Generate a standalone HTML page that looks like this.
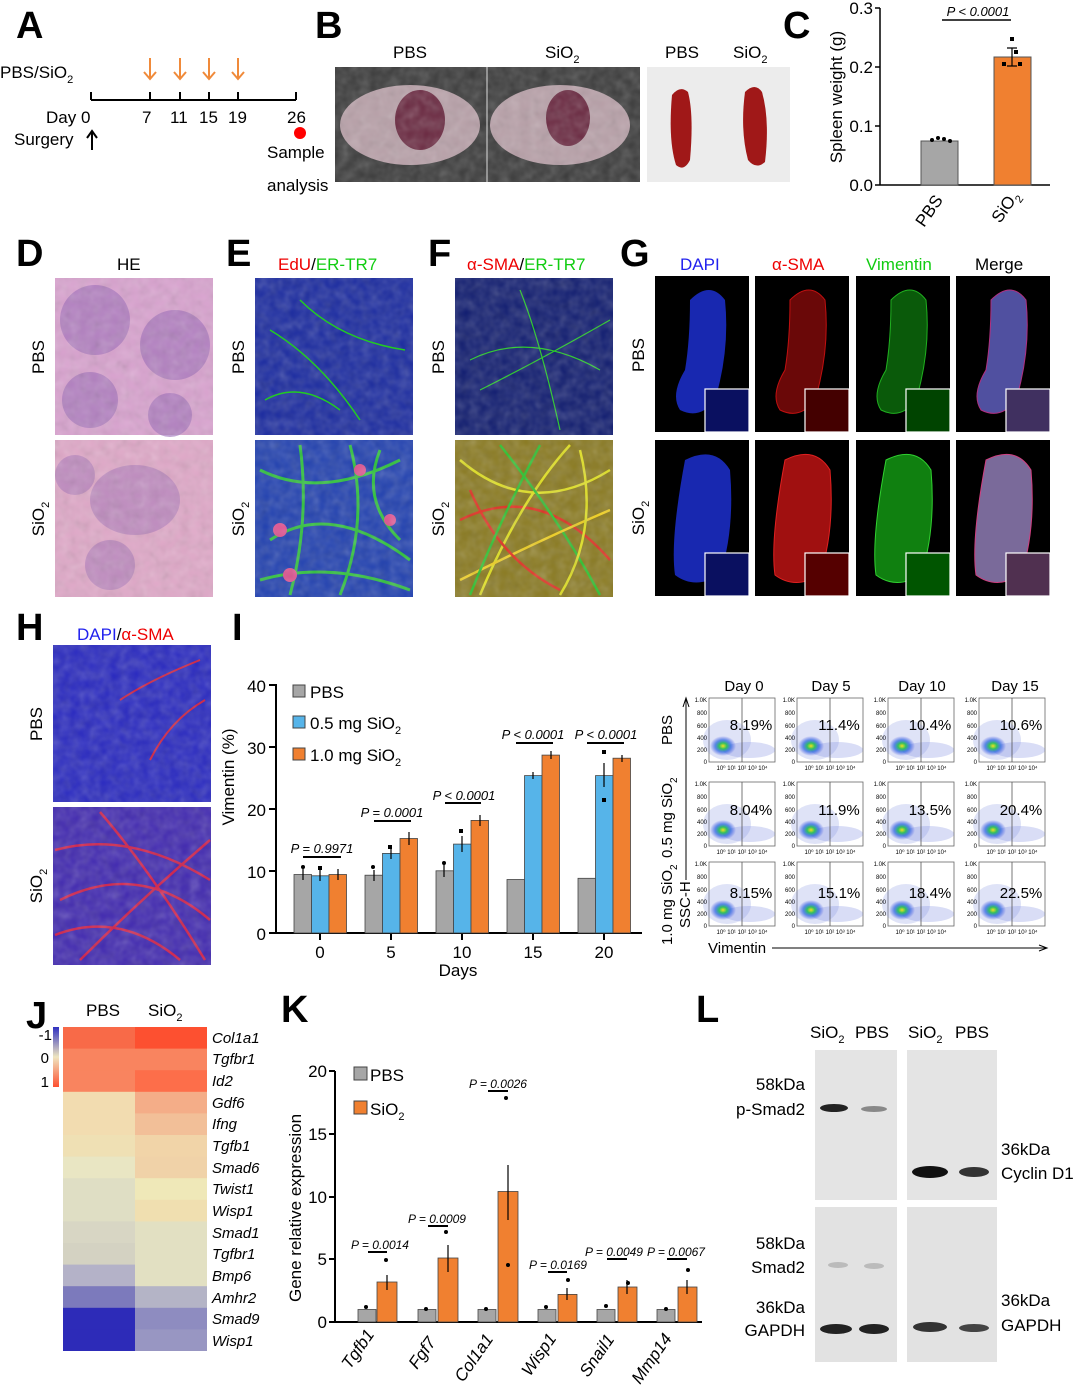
<!DOCTYPE html>
<html><head><meta charset="utf-8"><style>
html,body{margin:0;padding:0;background:#fff;}
svg{display:block;font-family:"Liberation Sans",Arial,sans-serif;}
.L{font-size:38px;font-weight:bold;}
.t{font-size:17px;}
.s{font-size:15px;}
.i{font-style:italic;}
.tk{font-size:6px;}
</style></head><body>
<svg width="1080" height="1388" viewBox="0 0 1080 1388" xmlns="http://www.w3.org/2000/svg">
<defs>
<filter id="noise" x="0" y="0" width="1" height="1" filterUnits="objectBoundingBox"><feTurbulence type="fractalNoise" baseFrequency="0.1" numOctaves="2" seed="3"/><feColorMatrix type="saturate" values="0"/><feComponentTransfer><feFuncA type="linear" slope="0.3"/></feComponentTransfer></filter>
<radialGradient id="blob" cx="0.5" cy="0.5" r="0.5"><stop offset="0" stop-color="#f0e020"/><stop offset="0.3" stop-color="#30c060"/><stop offset="0.6" stop-color="#2060e0" stop-opacity="0.7"/><stop offset="1" stop-color="#3040e0" stop-opacity="0"/></radialGradient>
<linearGradient id="cbar" x1="0" y1="0" x2="0" y2="1"><stop offset="0" stop-color="#3030c0"/><stop offset="0.5" stop-color="#efe6c0"/><stop offset="1" stop-color="#fd5030"/></linearGradient>
<g id="flow">
<rect x="0" y="0" width="66" height="64" fill="#fff" stroke="#666" stroke-width="0.8"/>
<ellipse cx="18" cy="42" rx="24" ry="20" fill="#8090e0" opacity="0.25"/>
<ellipse cx="40" cy="52" rx="26" ry="8" fill="#8090e0" opacity="0.3"/>
<ellipse cx="14" cy="48" rx="13" ry="10" fill="url(#blob)"/>
<line x1="33" y1="0" x2="33" y2="64" stroke="#555" stroke-width="0.8"/>
</g>
</defs>

<!-- A -->
<text x="16" y="38" class="L">A</text>
<text x="0" y="78" class="t">PBS/SiO<tspan font-size="11" dy="5">2</tspan></text>
<line x1="91" y1="100" x2="296" y2="100" stroke="#000" stroke-width="2"/>
<g stroke="#000" stroke-width="2"><line x1="91" y1="92" x2="91" y2="100"/><line x1="150" y1="92" x2="150" y2="100"/><line x1="180" y1="92" x2="180" y2="100"/><line x1="209" y1="92" x2="209" y2="100"/><line x1="238" y1="92" x2="238" y2="100"/><line x1="296" y1="92" x2="296" y2="100"/></g>
<g stroke="#f08a3a" stroke-width="2" fill="none"><path d="M150 58V78M144 72L150 79L156 72"/><path d="M180 58V78M174 72L180 79L186 72"/><path d="M209 58V78M203 72L209 79L215 72"/><path d="M238 58V78M232 72L238 79L244 72"/></g>
<text x="46" y="123" class="t">Day 0</text>
<text x="142" y="123" class="t">7</text><text x="170" y="123" class="t">11</text><text x="199" y="123" class="t">15</text><text x="228" y="123" class="t">19</text><text x="287" y="123" class="t">26</text>
<text x="14" y="145" class="t">Surgery</text>
<path d="M92 150V132M87 138L92 131L97 138" stroke="#000" stroke-width="2" fill="none"/>
<circle cx="300" cy="133" r="6" fill="#f00"/>
<text x="267" y="158" class="t">Sample</text>
<text x="267" y="191" class="t">analysis</text>

<!-- B -->
<text x="315" y="38" class="L">B</text>
<text x="393" y="58" class="t">PBS</text><text x="545" y="58" class="t">SiO<tspan font-size="11" dy="5">2</tspan></text>
<text x="665" y="58" class="t">PBS</text><text x="733" y="58" class="t">SiO<tspan font-size="11" dy="5">2</tspan></text>
<rect x="335" y="67" width="305" height="115" fill="#3a3a3a"/>
<ellipse cx="410" cy="125" rx="70" ry="40" fill="#b8a0a8"/>
<ellipse cx="420" cy="120" rx="25" ry="30" fill="#6a2840"/>
<ellipse cx="560" cy="125" rx="70" ry="40" fill="#b8a0a8"/>
<ellipse cx="568" cy="118" rx="22" ry="28" fill="#6a2840"/>
<rect x="335" y="67" width="305" height="115" filter="url(#noise)"/>
<line x1="487" y1="67" x2="487" y2="182" stroke="#ddd"/>
<rect x="647" y="67" width="143" height="115" fill="#ececec"/>
<path d="M672 95 Q680 85 688 92 Q694 115 690 160 Q684 172 676 165 Q668 140 672 95Z" fill="#a01818"/>
<path d="M745 92 Q755 82 762 92 Q770 120 765 162 Q756 170 748 160 Q740 130 745 92Z" fill="#a01818"/>

<!-- C -->
<text x="783" y="38" class="L">C</text>
<line x1="880" y1="8" x2="880" y2="185" stroke="#000" stroke-width="1.5"/>
<line x1="880" y1="185" x2="1050" y2="185" stroke="#000" stroke-width="1.5"/>
<g stroke="#000" stroke-width="1.5"><line x1="875" y1="185" x2="880" y2="185"/><line x1="875" y1="126" x2="880" y2="126"/><line x1="875" y1="67" x2="880" y2="67"/><line x1="875" y1="8" x2="880" y2="8"/></g>
<g class="t" text-anchor="end"><text x="873" y="191">0.0</text><text x="873" y="132">0.1</text><text x="873" y="73">0.2</text><text x="873" y="14">0.3</text></g>
<text transform="translate(842 97) rotate(-90)" class="t" text-anchor="middle">Spleen weight (g)</text>
<rect x="921" y="141" width="37" height="44" fill="#a6a6a6" stroke="#555"/>
<rect x="994" y="57" width="37" height="128" fill="#f08030" stroke="#555"/>
<line x1="942" y1="20" x2="1011" y2="20" stroke="#000" stroke-width="1.5"/>
<text x="978" y="16" class="i" font-size="13" text-anchor="middle">P &lt; 0.0001</text>
<path d="M1012 48V66M1007 48H1017M1007 66H1017" stroke="#000" stroke-width="1.2"/>
<g fill="#000"><circle cx="932" cy="140" r="2"/><circle cx="938" cy="138" r="2"/><circle cx="944" cy="139" r="2"/><circle cx="950" cy="141" r="2"/><rect x="1002" y="62" width="4" height="4"/><rect x="1010" y="37" width="4" height="4"/><rect x="1018" y="62" width="4" height="4"/><rect x="1014" y="50" width="4" height="4"/></g>
<text transform="translate(924 228) rotate(-55)" class="t">PBS</text>
<text transform="translate(1000 224) rotate(-55)" class="t">SiO<tspan font-size="11" dy="5">2</tspan></text>

<!-- D E F G -->
<text x="16" y="266" class="L">D</text><text x="117" y="270" class="t">HE</text>
<text x="226" y="266" class="L">E</text>
<text x="278" y="270" class="t"><tspan fill="#e00">EdU</tspan>/<tspan fill="#1c1">ER-TR7</tspan></text>
<text x="428" y="266" class="L">F</text>
<text x="467" y="270" class="t"><tspan fill="#e00">α-SMA</tspan>/<tspan fill="#1c1">ER-TR7</tspan></text>
<text x="620" y="266" class="L">G</text>
<text x="680" y="270" class="t" fill="#22e">DAPI</text><text x="772" y="270" class="t" fill="#e00">α-SMA</text><text x="866" y="270" class="t" fill="#1c1">Vimentin</text><text x="975" y="270" class="t">Merge</text>
<g class="t"><text transform="translate(44 357) rotate(-90)" text-anchor="middle">PBS</text><text transform="translate(44 519) rotate(-90)" text-anchor="middle">SiO<tspan font-size="11" dy="5">2</tspan></text>
<text transform="translate(244 357) rotate(-90)" text-anchor="middle">PBS</text><text transform="translate(244 519) rotate(-90)" text-anchor="middle">SiO<tspan font-size="11" dy="5">2</tspan></text>
<text transform="translate(444 357) rotate(-90)" text-anchor="middle">PBS</text><text transform="translate(444 519) rotate(-90)" text-anchor="middle">SiO<tspan font-size="11" dy="5">2</tspan></text>
<text transform="translate(644 355) rotate(-90)" text-anchor="middle">PBS</text><text transform="translate(644 518) rotate(-90)" text-anchor="middle">SiO<tspan font-size="11" dy="5">2</tspan></text></g>
<!-- HE -->
<rect x="55" y="278" width="158" height="157" fill="#d9a2cf"/>
<g fill="#9a6ab8" opacity="0.6"><circle cx="95" cy="320" r="35"/><circle cx="175" cy="345" r="35"/><circle cx="90" cy="400" r="28"/><circle cx="170" cy="415" r="22"/></g>
<rect x="55" y="278" width="158" height="157" filter="url(#noise)"/>
<rect x="55" y="440" width="158" height="157" fill="#e0a8c8"/>
<g fill="#a070b8" opacity="0.5"><ellipse cx="135" cy="500" rx="45" ry="35"/><circle cx="75" cy="475" r="20"/><circle cx="110" cy="565" r="25"/></g>
<rect x="55" y="440" width="158" height="157" filter="url(#noise)"/>
<!-- E -->
<rect x="255" y="278" width="158" height="157" fill="#1a2aa0"/>
<rect x="255" y="278" width="158" height="157" filter="url(#noise)"/>
<g stroke="#2c2" stroke-width="1.5" fill="none"><path d="M270 330 Q320 360 360 420"/><path d="M300 300 Q340 340 405 350"/><path d="M265 400 Q300 380 340 410"/></g>
<rect x="255" y="440" width="158" height="157" fill="#2040b0"/>
<g stroke="#30d030" stroke-width="3" fill="none" opacity="0.9"><path d="M260 470 Q320 500 400 460"/><path d="M270 540 Q330 500 410 560"/><path d="M300 445 Q310 520 290 595"/><path d="M350 445 Q370 520 340 595"/><path d="M260 580 Q330 560 410 590"/><path d="M380 450 Q360 500 400 540"/></g>
<g fill="#e05090"><circle cx="280" cy="530" r="7"/><circle cx="360" cy="470" r="6"/><circle cx="290" cy="575" r="7"/><circle cx="390" cy="520" r="6"/></g>
<rect x="255" y="440" width="158" height="157" filter="url(#noise)"/>
<!-- F -->
<rect x="455" y="278" width="158" height="157" fill="#101c70"/>
<g stroke="#2c2" stroke-width="1.2" fill="none"><path d="M470 360 Q530 330 600 370"/><path d="M480 390 Q540 360 610 320"/><path d="M520 290 Q540 340 560 430"/></g>
<rect x="455" y="278" width="158" height="157" filter="url(#noise)"/>
<rect x="455" y="440" width="158" height="157" fill="#8a7a20"/>
<g stroke-width="2.5" fill="none"><path d="M460 460 Q530 520 610 470" stroke="#e0e020"/><path d="M460 520 Q540 480 610 560" stroke="#e03020"/><path d="M480 595 Q520 500 570 445" stroke="#e0e020"/><path d="M500 445 Q560 520 600 595" stroke="#30c030"/><path d="M460 580 Q540 540 610 510" stroke="#f0d020"/><path d="M470 490 Q500 560 560 590" stroke="#e03020"/><path d="M540 445 Q500 520 470 595" stroke="#30c030"/><path d="M580 450 Q600 530 560 595" stroke="#e0e020"/></g>
<rect x="455" y="440" width="158" height="157" filter="url(#noise)"/>
<!-- G -->
<g>
<rect x="655" y="276" width="94" height="156" fill="#000"/><rect x="755" y="276" width="94" height="156" fill="#000"/><rect x="856" y="276" width="94" height="156" fill="#000"/><rect x="956" y="276" width="94" height="156" fill="#000"/>
<rect x="655" y="440" width="94" height="156" fill="#000"/><rect x="755" y="440" width="94" height="156" fill="#000"/><rect x="856" y="440" width="94" height="156" fill="#000"/><rect x="956" y="440" width="94" height="156" fill="#000"/>
<path d="M690 300 Q710 280 725 300 Q730 350 715 400 Q700 420 680 410 Q670 395 685 370 Q690 340 690 300Z" fill="#1828b0"/>
<path d="M790 300 Q810 280 825 300 Q830 350 815 400 Q800 420 780 410 Q770 395 785 370 Q790 340 790 300Z" fill="#6a0808" stroke="#c01010"/>
<path d="M891 300 Q911 280 926 300 Q931 350 916 400 Q901 420 881 410 Q871 395 886 370 Q891 340 891 300Z" fill="#0a5a0a" stroke="#20b020"/>
<path d="M991 300 Q1011 280 1026 300 Q1031 350 1016 400 Q1001 420 981 410 Q971 395 986 370 Q991 340 991 300Z" fill="#5050a0" stroke="#b03080"/>
<path d="M685 460 Q715 445 730 470 Q735 530 720 575 Q695 590 675 575 Q670 540 685 460Z" fill="#1828b0"/>
<path d="M785 460 Q815 445 830 470 Q835 530 820 575 Q795 590 775 575 Q770 540 785 460Z" fill="#a01010" stroke="#e02020"/>
<path d="M886 460 Q916 445 931 470 Q936 530 921 575 Q896 590 876 575 Q871 540 886 460Z" fill="#108010" stroke="#30d030"/>
<path d="M986 460 Q1016 445 1031 470 Q1036 530 1021 575 Q996 590 976 575 Q971 540 986 460Z" fill="#7a6a9a" stroke="#d04080"/>
<g stroke="#fff" stroke-width="1.2"><rect x="705" y="389" width="44" height="43" fill="#0a1060"/><rect x="805" y="389" width="44" height="43" fill="#400"/><rect x="906" y="389" width="44" height="43" fill="#040"/><rect x="1006" y="389" width="44" height="43" fill="#403060"/>
<rect x="705" y="553" width="44" height="43" fill="#0a1060"/><rect x="805" y="553" width="44" height="43" fill="#500"/><rect x="906" y="553" width="44" height="43" fill="#050"/><rect x="1006" y="553" width="44" height="43" fill="#503050"/></g>
</g>

<!-- H -->
<text x="16" y="640" class="L">H</text>
<text x="77" y="640" class="t"><tspan fill="#22e">DAPI</tspan>/<tspan fill="#e00">α-SMA</tspan></text>
<text transform="translate(42 724) rotate(-90)" class="t" text-anchor="middle">PBS</text>
<text transform="translate(42 886) rotate(-90)" class="t" text-anchor="middle">SiO<tspan font-size="11" dy="5">2</tspan></text>
<rect x="53" y="645" width="158" height="157" fill="#2828c0"/>
<g stroke="#d02040" stroke-width="2" fill="none"><path d="M120 700 Q150 680 200 660"/><path d="M150 760 Q170 720 205 700"/></g>
<rect x="53" y="645" width="158" height="157" filter="url(#noise)"/>
<rect x="53" y="807" width="158" height="158" fill="#4028b0"/>
<g stroke="#e02040" stroke-width="2.5" fill="none" opacity="0.9"><path d="M55 850 Q130 830 210 880"/><path d="M60 900 Q140 860 210 920"/><path d="M80 960 Q140 900 210 840"/><path d="M100 812 Q150 870 205 960"/><path d="M55 935 Q120 910 180 960"/></g>
<rect x="53" y="807" width="158" height="158" filter="url(#noise)"/>

<!-- I -->
<text x="232" y="640" class="L">I</text>
<line x1="276" y1="684" x2="276" y2="933" stroke="#000" stroke-width="2"/>
<line x1="276" y1="933" x2="642" y2="933" stroke="#000" stroke-width="2"/>
<g stroke="#000" stroke-width="2"><line x1="269" y1="933" x2="276" y2="933"/><line x1="269" y1="871" x2="276" y2="871"/><line x1="269" y1="809" x2="276" y2="809"/><line x1="269" y1="747" x2="276" y2="747"/><line x1="269" y1="685" x2="276" y2="685"/>
<line x1="320" y1="933" x2="320" y2="940"/><line x1="391" y1="933" x2="391" y2="940"/><line x1="462" y1="933" x2="462" y2="940"/><line x1="533" y1="933" x2="533" y2="940"/><line x1="604" y1="933" x2="604" y2="940"/></g>
<g class="t" text-anchor="end"><text x="266" y="940">0</text><text x="266" y="878">10</text><text x="266" y="816">20</text><text x="266" y="754">30</text><text x="266" y="692">40</text></g>
<g class="t" text-anchor="middle"><text x="320" y="958">0</text><text x="391" y="958">5</text><text x="462" y="958">10</text><text x="533" y="958">15</text><text x="604" y="958">20</text><text x="458" y="976">Days</text></g>
<text transform="translate(234 777) rotate(-90)" class="t" text-anchor="middle">Vimentin (%)</text>
<g stroke="#444" stroke-width="0.8">
<rect x="294" y="874.5" width="17.5" height="58.5" fill="#a6a6a6"/><rect x="311.5" y="875.8" width="17.5" height="57.2" fill="#56b4e9"/><rect x="329" y="874.5" width="17.5" height="58.5" fill="#f08030"/>
<rect x="365" y="875.2" width="17.5" height="57.8" fill="#a6a6a6"/><rect x="382.5" y="853.4" width="17.5" height="79.6" fill="#56b4e9"/><rect x="400" y="838.5" width="17.5" height="94.5" fill="#f08030"/>
<rect x="436" y="870.8" width="17.5" height="62.2" fill="#a6a6a6"/><rect x="453.5" y="844.1" width="17.5" height="88.9" fill="#56b4e9"/><rect x="471" y="820.4" width="17.5" height="112.6" fill="#f08030"/>
<rect x="507" y="879.5" width="17.5" height="53.5" fill="#a6a6a6"/><rect x="524.5" y="775.6" width="17.5" height="157.4" fill="#56b4e9"/><rect x="542" y="755.1" width="17.5" height="177.9" fill="#f08030"/>
<rect x="578" y="878.3" width="17.5" height="54.7" fill="#a6a6a6"/><rect x="595.5" y="775.6" width="17.5" height="157.4" fill="#56b4e9"/><rect x="613" y="758.2" width="17.5" height="174.8" fill="#f08030"/>
</g>
<g stroke="#000" stroke-width="1.2" fill="none"><path d="M303 869V880M320 869V881M338 869V880M374 870V881M391 848V859M409 832V845M444 864V877M462 836V852M480 815V826M533 772V779M551 751V759M604 763V787M622 755V762"/></g>
<g fill="#000"><circle cx="303" cy="867" r="2"/><rect x="318" y="866" width="4" height="4"/><rect x="388" y="845" width="4" height="4"/><rect x="459" y="829" width="4" height="4"/><rect x="602" y="750" width="4" height="4"/><rect x="602" y="798" width="4" height="4"/><circle cx="444" cy="863" r="2"/><circle cx="373" cy="867" r="2"/></g>
<g stroke="#000" stroke-width="2"><line x1="303" y1="857" x2="341" y2="857"/><line x1="374" y1="821" x2="411" y2="821"/><line x1="445" y1="803" x2="481" y2="803"/><line x1="516" y1="743" x2="553" y2="743"/><line x1="587" y1="743" x2="624" y2="743"/></g>
<g class="i" font-size="13" text-anchor="middle"><text x="322" y="853">P = 0.9971</text><text x="392" y="817">P = 0.0001</text><text x="464" y="800">P &lt; 0.0001</text><text x="533" y="739">P &lt; 0.0001</text><text x="606" y="739">P &lt; 0.0001</text></g>
<g stroke="#444"><rect x="293" y="685" width="12" height="12" fill="#a6a6a6"/><rect x="293" y="716" width="12" height="12" fill="#56b4e9"/><rect x="293" y="748" width="12" height="12" fill="#f08030"/></g>
<g class="t"><text x="310" y="698">PBS</text><text x="310" y="729">0.5 mg SiO<tspan font-size="11" dy="5">2</tspan></text><text x="310" y="761">1.0 mg SiO<tspan font-size="11" dy="5">2</tspan></text></g>

<!-- flow -->
<g class="s" text-anchor="middle"><text x="744" y="691">Day 0</text><text x="831" y="691">Day 5</text><text x="922" y="691">Day 10</text><text x="1015" y="691">Day 15</text></g>
<g>
<use href="#flow" x="709" y="698"/><use href="#flow" x="797" y="698"/><use href="#flow" x="888" y="698"/><use href="#flow" x="979" y="698"/>
<use href="#flow" x="709" y="782"/><use href="#flow" x="797" y="782"/><use href="#flow" x="888" y="782"/><use href="#flow" x="979" y="782"/>
<use href="#flow" x="709" y="862"/><use href="#flow" x="797" y="862"/><use href="#flow" x="888" y="862"/><use href="#flow" x="979" y="862"/>
</g>
<g class="s" text-anchor="middle"><text x="751" y="730">8.19%</text><text x="839" y="730">11.4%</text><text x="930" y="730">10.4%</text><text x="1021" y="730">10.6%</text>
<text x="751" y="815">8.04%</text><text x="839" y="815">11.9%</text><text x="930" y="815">13.5%</text><text x="1021" y="815">20.4%</text>
<text x="751" y="898">8.15%</text><text x="839" y="898">15.1%</text><text x="930" y="898">18.4%</text><text x="1021" y="898">22.5%</text></g>
<g class="tk" text-anchor="end">
<text x="707" y="702">1.0K</text><text x="707" y="715">800</text><text x="707" y="728">600</text><text x="707" y="740">400</text><text x="707" y="752">200</text><text x="707" y="764">0</text>
<text x="795" y="702">1.0K</text><text x="795" y="715">800</text><text x="795" y="728">600</text><text x="795" y="740">400</text><text x="795" y="752">200</text><text x="795" y="764">0</text>
<text x="886" y="702">1.0K</text><text x="886" y="715">800</text><text x="886" y="728">600</text><text x="886" y="740">400</text><text x="886" y="752">200</text><text x="886" y="764">0</text>
<text x="977" y="702">1.0K</text><text x="977" y="715">800</text><text x="977" y="728">600</text><text x="977" y="740">400</text><text x="977" y="752">200</text><text x="977" y="764">0</text>
<text x="707" y="786">1.0K</text><text x="707" y="799">800</text><text x="707" y="812">600</text><text x="707" y="824">400</text><text x="707" y="836">200</text><text x="707" y="848">0</text>
<text x="795" y="786">1.0K</text><text x="795" y="799">800</text><text x="795" y="812">600</text><text x="795" y="824">400</text><text x="795" y="836">200</text><text x="795" y="848">0</text>
<text x="886" y="786">1.0K</text><text x="886" y="799">800</text><text x="886" y="812">600</text><text x="886" y="824">400</text><text x="886" y="836">200</text><text x="886" y="848">0</text>
<text x="977" y="786">1.0K</text><text x="977" y="799">800</text><text x="977" y="812">600</text><text x="977" y="824">400</text><text x="977" y="836">200</text><text x="977" y="848">0</text>
<text x="707" y="866">1.0K</text><text x="707" y="879">800</text><text x="707" y="892">600</text><text x="707" y="904">400</text><text x="707" y="916">200</text><text x="707" y="928">0</text>
<text x="795" y="866">1.0K</text><text x="795" y="879">800</text><text x="795" y="892">600</text><text x="795" y="904">400</text><text x="795" y="916">200</text><text x="795" y="928">0</text>
<text x="886" y="866">1.0K</text><text x="886" y="879">800</text><text x="886" y="892">600</text><text x="886" y="904">400</text><text x="886" y="916">200</text><text x="886" y="928">0</text>
<text x="977" y="866">1.0K</text><text x="977" y="879">800</text><text x="977" y="892">600</text><text x="977" y="904">400</text><text x="977" y="916">200</text><text x="977" y="928">0</text>
</g>
<g class="tk" text-anchor="middle">
<text x="742" y="770">10⁰ 10¹ 10² 10³ 10⁴</text><text x="830" y="770">10⁰ 10¹ 10² 10³ 10⁴</text><text x="921" y="770">10⁰ 10¹ 10² 10³ 10⁴</text><text x="1012" y="770">10⁰ 10¹ 10² 10³ 10⁴</text>
<text x="742" y="854">10⁰ 10¹ 10² 10³ 10⁴</text><text x="830" y="854">10⁰ 10¹ 10² 10³ 10⁴</text><text x="921" y="854">10⁰ 10¹ 10² 10³ 10⁴</text><text x="1012" y="854">10⁰ 10¹ 10² 10³ 10⁴</text>
<text x="742" y="934">10⁰ 10¹ 10² 10³ 10⁴</text><text x="830" y="934">10⁰ 10¹ 10² 10³ 10⁴</text><text x="921" y="934">10⁰ 10¹ 10² 10³ 10⁴</text><text x="1012" y="934">10⁰ 10¹ 10² 10³ 10⁴</text>
</g>
<g class="s"><text transform="translate(672 745) rotate(-90)">PBS</text>
<text transform="translate(672 858) rotate(-90)">0.5 mg SiO<tspan font-size="10" dy="5">2</tspan></text>
<text transform="translate(672 945) rotate(-90)">1.0 mg SiO<tspan font-size="10" dy="5">2</tspan></text>
<text transform="translate(690 928) rotate(-90)">SSC-H</text>
<text x="708" y="953">Vimentin</text></g>
<path d="M686 880V700M683 707L686 698L689 707" stroke="#000" stroke-width="1" fill="none"/>
<path d="M772 948H1046M1039 945L1047 948L1039 951" stroke="#000" stroke-width="1" fill="none"/>

<!-- J -->
<text x="26" y="1028" class="L">J</text>
<text x="86" y="1016" class="t">PBS</text><text x="148" y="1016" class="t">SiO<tspan font-size="11" dy="5">2</tspan></text>
<rect x="53" y="1027" width="6" height="60" fill="url(#cbar)"/>
<g class="s" text-anchor="end"><text x="52" y="1040">-1</text><text x="49" y="1063">0</text><text x="49" y="1087">1</text></g>
<g>
<rect x="63" y="1027" width="72" height="22" fill="#f86a48"/><rect x="135" y="1027" width="72" height="22" fill="#fd5030"/>
<rect x="63" y="1048.6" width="72" height="22" fill="#f9845f"/><rect x="135" y="1048.6" width="72" height="22" fill="#f9845f"/>
<rect x="63" y="1070.2" width="72" height="22" fill="#f9845f"/><rect x="135" y="1070.2" width="72" height="22" fill="#fd6e4a"/>
<rect x="63" y="1091.8" width="72" height="22" fill="#f2dcb0"/><rect x="135" y="1091.8" width="72" height="22" fill="#f4ad88"/>
<rect x="63" y="1113.4" width="72" height="22" fill="#f2dcb0"/><rect x="135" y="1113.4" width="72" height="22" fill="#f2bf98"/>
<rect x="63" y="1135" width="72" height="22" fill="#efe0b4"/><rect x="135" y="1135" width="72" height="22" fill="#f1d4a8"/>
<rect x="63" y="1156.6" width="72" height="22" fill="#e9e6c3"/><rect x="135" y="1156.6" width="72" height="22" fill="#f0d2a8"/>
<rect x="63" y="1178.2" width="72" height="22" fill="#dfdec4"/><rect x="135" y="1178.2" width="72" height="22" fill="#efe8b8"/>
<rect x="63" y="1199.8" width="72" height="22" fill="#dfdec4"/><rect x="135" y="1199.8" width="72" height="22" fill="#f0dfb0"/>
<rect x="63" y="1221.4" width="72" height="22" fill="#d8d6c4"/><rect x="135" y="1221.4" width="72" height="22" fill="#e2e0c2"/>
<rect x="63" y="1243" width="72" height="22" fill="#d4d2c2"/><rect x="135" y="1243" width="72" height="22" fill="#e2e0c2"/>
<rect x="63" y="1264.6" width="72" height="22" fill="#b4b2c8"/><rect x="135" y="1264.6" width="72" height="22" fill="#e2e0c2"/>
<rect x="63" y="1286.2" width="72" height="22" fill="#7c7abc"/><rect x="135" y="1286.2" width="72" height="22" fill="#b4b4c6"/>
<rect x="63" y="1307.8" width="72" height="22" fill="#2d2bb8"/><rect x="135" y="1307.8" width="72" height="22" fill="#8e8cc0"/>
<rect x="63" y="1329.4" width="72" height="21.6" fill="#2d2bb8"/><rect x="135" y="1329.4" width="72" height="21.6" fill="#9896c2"/>
</g>
<g class="s i"><text x="212" y="1043">Col1a1</text><text x="212" y="1064">Tgfbr1</text><text x="212" y="1086">Id2</text><text x="212" y="1108">Gdf6</text><text x="212" y="1129">Ifng</text><text x="212" y="1151">Tgfb1</text><text x="212" y="1173">Smad6</text><text x="212" y="1194">Twist1</text><text x="212" y="1216">Wisp1</text><text x="212" y="1238">Smad1</text><text x="212" y="1259">Tgfbr1</text><text x="212" y="1281">Bmp6</text><text x="212" y="1303">Amhr2</text><text x="212" y="1324">Smad9</text><text x="212" y="1346">Wisp1</text></g>

<!-- K -->
<text x="281" y="1022" class="L">K</text>
<line x1="335" y1="1071" x2="335" y2="1322" stroke="#000" stroke-width="2"/>
<line x1="335" y1="1322" x2="702" y2="1322" stroke="#000" stroke-width="2"/>
<g stroke="#000" stroke-width="2"><line x1="329" y1="1322" x2="335" y2="1322"/><line x1="329" y1="1259" x2="335" y2="1259"/><line x1="329" y1="1197" x2="335" y2="1197"/><line x1="329" y1="1134" x2="335" y2="1134"/><line x1="329" y1="1071" x2="335" y2="1071"/></g>
<g class="t" text-anchor="end"><text x="327" y="1328">0</text><text x="327" y="1265">5</text><text x="327" y="1203">10</text><text x="327" y="1140">15</text><text x="327" y="1077">20</text></g>
<text transform="translate(301 1208) rotate(-90)" class="t" text-anchor="middle">Gene relative expression</text>
<g stroke="#444" stroke-width="0.8">
<rect x="358" y="1309.5" width="18" height="12.5" fill="#a6a6a6"/><rect x="377" y="1282" width="20" height="40" fill="#f08030"/>
<rect x="418" y="1309.5" width="18" height="12.5" fill="#a6a6a6"/><rect x="438" y="1258" width="20" height="64" fill="#f08030"/>
<rect x="478" y="1309.5" width="18" height="12.5" fill="#a6a6a6"/><rect x="498" y="1191.5" width="20" height="130.5" fill="#f08030"/>
<rect x="538" y="1309.5" width="18" height="12.5" fill="#a6a6a6"/><rect x="558" y="1294.4" width="19" height="27.6" fill="#f08030"/>
<rect x="597" y="1309.5" width="18" height="12.5" fill="#a6a6a6"/><rect x="618" y="1287" width="19" height="35" fill="#f08030"/>
<rect x="657" y="1309.5" width="18" height="12.5" fill="#a6a6a6"/><rect x="678" y="1287" width="19" height="35" fill="#f08030"/>
</g>
<g stroke="#000" stroke-width="1.2"><path d="M508 1165V1220M448 1245V1272M387 1275V1290M567 1288V1300M627 1280V1294M687 1280V1294"/></g>
<g fill="#000"><circle cx="506" cy="1098" r="2"/><circle cx="446" cy="1232" r="2"/><circle cx="386" cy="1260" r="2"/><circle cx="508" cy="1265" r="2"/><circle cx="568" cy="1280" r="2"/><circle cx="688" cy="1270" r="2"/><circle cx="628" cy="1283" r="2"/><circle cx="366" cy="1307" r="2"/><circle cx="426" cy="1309" r="2"/><circle cx="486" cy="1309" r="2"/><circle cx="546" cy="1307" r="2"/><circle cx="606" cy="1306" r="2"/><circle cx="666" cy="1309" r="2"/></g>
<g stroke="#000" stroke-width="2"><line x1="368" y1="1252" x2="387" y2="1252"/><line x1="428" y1="1226" x2="448" y2="1226"/><line x1="488" y1="1091" x2="508" y2="1091"/><line x1="548" y1="1272" x2="567" y2="1272"/><line x1="607" y1="1259" x2="627" y2="1259"/><line x1="667" y1="1259" x2="687" y2="1259"/></g>
<g class="i" font-size="12" text-anchor="middle"><text x="380" y="1249">P = 0.0014</text><text x="437" y="1223">P = 0.0009</text><text x="498" y="1088">P = 0.0026</text><text x="558" y="1269">P = 0.0169</text><text x="614" y="1256">P = 0.0049</text><text x="676" y="1256">P = 0.0067</text></g>
<g stroke="#444"><rect x="354" y="1067" width="13" height="13" fill="#a6a6a6"/><rect x="354" y="1101" width="13" height="13" fill="#f08030"/></g>
<g class="t"><text x="370" y="1081">PBS</text><text x="370" y="1115">SiO<tspan font-size="11" dy="5">2</tspan></text></g>
<g class="t i"><text transform="translate(350 1370) rotate(-55)">Tgfb1</text><text transform="translate(417 1370) rotate(-55)">Fgf7</text><text transform="translate(463 1383) rotate(-55)">Col1a1</text><text transform="translate(530 1377) rotate(-55)">Wisp1</text><text transform="translate(588 1378) rotate(-55)">Snail1</text><text transform="translate(640 1385) rotate(-55)">Mmp14</text></g>

<!-- L -->
<text x="696" y="1022" class="L">L</text>
<text x="810" y="1038" class="t">SiO<tspan font-size="11" dy="5">2</tspan></text><text x="855" y="1038" class="t">PBS</text>
<text x="908" y="1038" class="t">SiO<tspan font-size="11" dy="5">2</tspan></text><text x="955" y="1038" class="t">PBS</text>
<rect x="815" y="1050" width="82" height="150" fill="#e4e4e4"/>
<rect x="907" y="1050" width="90" height="150" fill="#e4e4e4"/>
<rect x="815" y="1207" width="82" height="155" fill="#e2e2e2"/>
<rect x="907" y="1207" width="90" height="155" fill="#e2e2e2"/>
<ellipse cx="834" cy="1108" rx="14" ry="4" fill="#222"/><ellipse cx="874" cy="1109" rx="13" ry="3" fill="#888"/>
<ellipse cx="930" cy="1172" rx="18" ry="6" fill="#111"/><ellipse cx="974" cy="1172" rx="15" ry="5" fill="#333"/>
<ellipse cx="838" cy="1265" rx="10" ry="3" fill="#bbb"/><ellipse cx="874" cy="1266" rx="10" ry="3" fill="#bbb"/>
<ellipse cx="836" cy="1329" rx="16" ry="5" fill="#222"/><ellipse cx="874" cy="1329" rx="15" ry="5" fill="#222"/>
<ellipse cx="930" cy="1327" rx="17" ry="5" fill="#333"/><ellipse cx="974" cy="1328" rx="15" ry="4" fill="#444"/>
<g class="t" text-anchor="end"><text x="805" y="1090">58kDa</text><text x="805" y="1115">p-Smad2</text><text x="805" y="1249">58kDa</text><text x="805" y="1273">Smad2</text><text x="805" y="1313">36kDa</text><text x="805" y="1336">GAPDH</text></g>
<g class="t"><text x="1001" y="1155">36kDa</text><text x="1001" y="1179">Cyclin D1</text><text x="1001" y="1306">36kDa</text><text x="1001" y="1331">GAPDH</text></g>
</svg>
</body></html>
